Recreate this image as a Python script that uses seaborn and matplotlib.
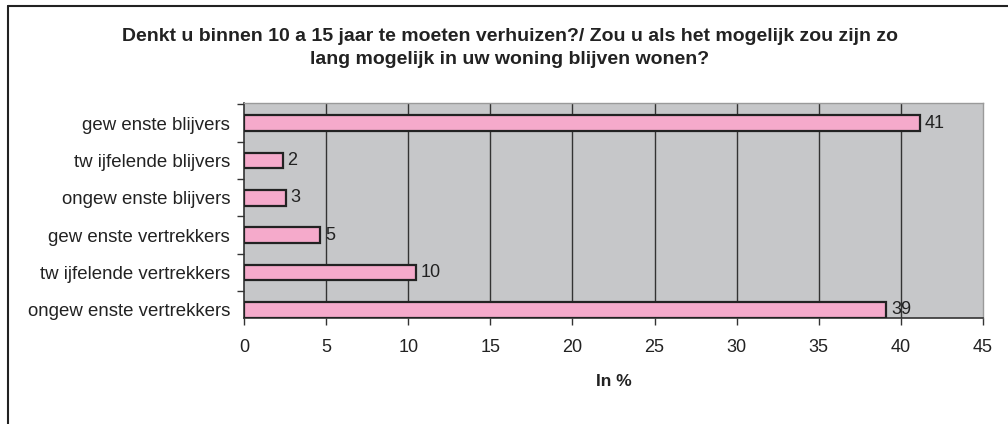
import matplotlib
matplotlib.use("Agg")
import matplotlib.pyplot as plt
import seaborn as sns
import pandas as pd
from matplotlib.lines import Line2D

# data
categories = [
    "gew enste blijvers",
    "tw ijfelende blijvers",
    "ongew enste blijvers",
    "gew enste vertrekkers",
    "tw ijfelende vertrekkers",
    "ongew enste vertrekkers",
]
values = [41.15, 2.35, 2.55, 4.65, 10.45, 39.1]
value_labels = ["41", "2", "3", "5", "10", "39"]

title = ("Denkt u binnen 10 a 15 jaar te moeten verhuizen?/ Zou u als het mogelijk zou zijn zo\n"
         "lang mogelijk in uw woning blijven wonen?")
x_ticks = [0, 5, 10, 15, 20, 25, 30, 35, 40, 45]

df = pd.DataFrame({"categorie": categories, "waarde": values})

sns.set_style("white")
plt.rcParams["font.family"] = ["Liberation Sans", "DejaVu Sans"]

fig = plt.figure(figsize=(10.08, 4.24), dpi=100)
ax = fig.add_axes([244 / 1008, 106 / 424, 739 / 1008, 215 / 424])
ax.set_facecolor("#c6c7c9")

sns.barplot(data=df, x="waarde", y="categorie", orient="h", color="#f5aacb",
            edgecolor="#222222", linewidth=1.6, width=0.42, saturation=1, ax=ax, zorder=3)

for i, (v, lab) in enumerate(zip(values, value_labels)):
    ax.text(v + 0.3, i, lab, va="center", ha="left", fontsize=13, color="#222222", zorder=4)

ax.set_xlim(0, 45)
ax.set_ylim(5.22, -0.54)
ax.set_xticks(x_ticks)
ax.set_xticklabels([str(t) for t in x_ticks], fontsize=13, color="#222222")
ax.tick_params(axis="x", direction="out", length=5, width=1, color="#333333", pad=10, bottom=True)
ax.tick_params(axis="y", which="major", length=0, pad=10, labelsize=13.4, labelcolor="#222222")
ax.set_yticks([-0.5, 0.5, 1.5, 2.5, 3.5, 4.5], minor=True)
ax.tick_params(axis="y", which="minor", direction="out", length=5, width=1, color="#333333", left=True)

for t in x_ticks[1:-1]:
    ax.axvline(t, color="#333333", linewidth=1, zorder=1)

for side in ["left", "bottom"]:
    ax.spines[side].set_color("#333333")
    ax.spines[side].set_linewidth(1.2)
for side in ["top", "right"]:
    ax.spines[side].set_color("#9a9a9a")
    ax.spines[side].set_linewidth(1)

ax.set_ylabel("")
ax.set_xlabel("In %", fontsize=12.5, fontweight="bold", color="#222222", labelpad=13)

fig.text(510 / 1008, 1 - 48 / 424, title, ha="center", va="center", fontsize=14,
         fontweight="bold", color="#222222", linespacing=1.4)

# outer frame (only left and top are visible in the crop)
fig.add_artist(Line2D([7.5 / 1008, 7.5 / 1008], [0, 1 - 6 / 424], color="#222222", linewidth=1.5))
fig.add_artist(Line2D([7.5 / 1008, 1], [1 - 6 / 424, 1 - 6 / 424], color="#222222", linewidth=1.5))

fig.savefig("out.png", dpi=100)
